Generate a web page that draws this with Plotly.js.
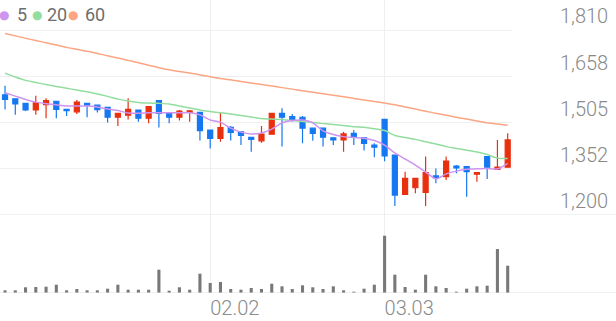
<!DOCTYPE html>
<html><head><meta charset="utf-8">
<script src="https://cdn.plot.ly/plotly-3.0.1.min.js"></script>
<style>html,body{margin:0;padding:0;background:#fff;overflow:hidden}#chart{width:616px;height:321px}</style>
</head><body><div id="chart"></div>
<script>
const dates = ['01.05','01.06','01.07','01.08','01.09','01.12','01.13','01.14','01.15','01.16',
  '01.19','01.20','01.21','01.22','01.23','01.26','01.27','01.28','01.29','01.30',
  '02.02','02.03','02.04','02.05','02.06','02.09','02.10','02.11','02.12','02.13',
  '02.19','02.20','02.23','02.24','02.25','02.26','02.27',
  '03.03','03.04','03.05','03.06','03.09','03.10','03.11','03.12','03.13','03.16','03.17','03.18','03.19'];
const openP  = [1597,1584,1569,1547,1565,1576,1549,1541,1569,1563,1556,1523,1530,1547,1520,1578,1538,1523,1539,1539,
  1481,1453,1490,1475,1457,1445,1467,1536,1525,1523,1487,1487,1455,1448,1470,1455,1431,
  1516,1398,1268,1290,1275,1329,1327,1362,1360,1335,1393,1351,1358];
const highP  = [1627,1586,1571,1594,1586,1578,1550,1580,1571,1565,1557,1537,1586,1549,1559,1579,1539,1547,1547,1541,
  1482,1538,1494,1476,1458,1494,1536,1553,1534,1527,1488,1488,1456,1475,1481,1456,1437,
  1517,1399,1343,1321,1393,1354,1393,1365,1361,1340,1394,1448,1470];
const lowP   = [1549,1531,1544,1531,1520,1520,1527,1534,1523,1539,1506,1494,1516,1508,1503,1489,1503,1512,1508,1446,
  1420,1442,1446,1431,1409,1439,1466,1426,1508,1437,1445,1426,1431,1409,1431,1413,1391,
  1378,1230,1267,1272,1230,1305,1316,1338,1260,1310,1319,1350,1357];
const closeP = [1582,1567,1547,1571,1578,1549,1545,1573,1563,1548,1523,1536,1549,1520,1558,1536,1523,1543,1544,1479,
  1453,1489,1473,1463,1450,1467,1536,1523,1516,1487,1470,1457,1448,1468,1459,1437,1424,
  1395,1266,1321,1321,1340,1323,1378,1356,1343,1340,1358,1358,1448];
const volume = [270,270,570,600,630,830,270,400,270,270,430,830,330,330,330,2330,230,570,330,1930,
  1000,1100,400,330,500,400,930,670,400,770,570,400,670,270,130,430,830,
  5730,1830,600,330,1830,670,500,130,430,670,730,4400,2730];
const ma5  = [1604,1593,1582,1573,1568,1564,1560,1560,1560,1557,1550,1545,1537,1536,1538,1538,1538,1538,1538,1531,
  1514,1507,1487,1474,1468,1471,1484,1504,1512,1514,1505,1478,1466,1459,1456,1454,1446,
  1431,1405,1385,1365,1342,1319,1336,1345,1351,1353,1354,1352,1371];
const ma20 = [1669,1656,1645,1638,1631,1625,1619,1613,1607,1600,1592,1583,1577,1572,1570,1569,1567,1560,1554,1547,
  1542,1538,1534,1529,1524,1519,1517,1516,1512,1509,1506,1502,1499,1496,1492,1490,1485,
  1479,1463,1456,1450,1442,1435,1426,1420,1414,1408,1400,1388,1387];
const ma60 = [1800,1792,1784,1777,1769,1762,1754,1748,1741,1734,1726,1719,1711,1703,1695,1687,1680,1674,1669,1663,
  1657,1651,1647,1641,1636,1631,1626,1621,1616,1611,1606,1601,1596,1591,1585,1580,1575,
  1570,1564,1557,1550,1543,1536,1530,1523,1517,1511,1505,1501,1497];
const priceTicks = [1200,1352.5,1505,1657.5,1810];
const priceTickText = ['1,200','1,352','1,505','1,658','1,810'];
const dateTicks = ['02.02','03.03'];
const legendNames = ['5','20','60'];

const RED='#e8300f', BLUE='#1677f2';
const maColors=['#cf93f0','#92dd9f','#fba583'];
const W=512, H=293;

const traces=[
  {type:'candlestick',x:dates,open:openP,high:highP,low:lowP,close:closeP,xaxis:'x',yaxis:'y',
   increasing:{line:{color:RED,width:1.2},fillcolor:RED},
   decreasing:{line:{color:BLUE,width:1.2},fillcolor:BLUE},
   whiskerwidth:0,showlegend:false,hoverinfo:'skip'},
  {type:'scatter',mode:'lines',x:dates,y:ma60,xaxis:'x',yaxis:'y',line:{color:maColors[2],width:1.5,shape:'spline',smoothing:0.6},showlegend:false,hoverinfo:'skip'},
  {type:'scatter',mode:'lines',x:dates,y:ma20,xaxis:'x',yaxis:'y',line:{color:maColors[1],width:1.5,shape:'spline',smoothing:0.6},showlegend:false,hoverinfo:'skip'},
  {type:'scatter',mode:'lines',x:dates,y:ma5,xaxis:'x',yaxis:'y',line:{color:maColors[0],width:1.5,shape:'spline',smoothing:0.6},showlegend:false,hoverinfo:'skip'},
  {type:'bar',x:dates,y:volume,xaxis:'x',yaxis:'y2',marker:{color:'#787878'},width:0.3,showlegend:false,hoverinfo:'skip'}
];

const ann=[];
const dotX=[4,37,73], txtX=[15,45,83];
for(let k=0;k<3;k++){
  ann.push({xref:'paper',yref:'paper',x:dotX[k]/W,y:1-15/H,xanchor:'center',yanchor:'middle',showarrow:false,
    text:'●',font:{family:'DejaVu Sans',size:12,color:maColors[k]}});
  ann.push({xref:'paper',yref:'paper',x:txtX[k]/W,y:1-14/H,xanchor:'left',yanchor:'middle',showarrow:false,
    text:legendNames[k],font:{family:'Roboto',size:18,color:'#6e6e6e'}});
}

const layout={
  width:616,height:321,margin:{l:0,r:104,t:0,b:28},
  paper_bgcolor:'#fff',plot_bgcolor:'#fff',
  showlegend:false,
  xaxis:{type:'category',anchor:'y2',range:[-0.49,49.42],rangeslider:{visible:false},
    tickmode:'array',tickvals:dateTicks,ticktext:dateTicks,showgrid:true,gridcolor:'#efefef',gridwidth:1,
    ticks:'',showline:false,zeroline:false,ticklabelposition:'outside right',ticklabelstandoff:1,
    tickfont:{family:'Roboto',size:20,color:'#8a8a8a',weight:300},fixedrange:true},
  yaxis:{domain:[78/H,1],range:[1200,1200+215*3.305],side:'right',tickmode:'array',tickvals:priceTicks,ticktext:priceTickText,
    showgrid:true,gridcolor:'#f0f0f0',zeroline:false,showline:false,ticks:'',
    ticklabelposition:'outside top',ticklabelstandoff:47,
    tickfont:{family:'Roboto',size:20,color:'#8a8a8a',weight:300}},
  yaxis2:{domain:[0,78/H],range:[0,7800],showgrid:false,zeroline:false,showticklabels:false,ticks:''},
  shapes:[
    {type:'line',xref:'paper',yref:'y',x0:0,x1:616/W,y0:1200,y1:1200,line:{color:'#e6e6e6',width:1.2}},
    {type:'line',xref:'paper',yref:'y2',x0:0,x1:616/W,y0:0,y1:0,line:{color:'#e2e2e2',width:1.2}}
  ],
  annotations:ann
};
Plotly.newPlot('chart',traces,layout,{staticPlot:true,displayModeBar:false});
</script></body></html>
